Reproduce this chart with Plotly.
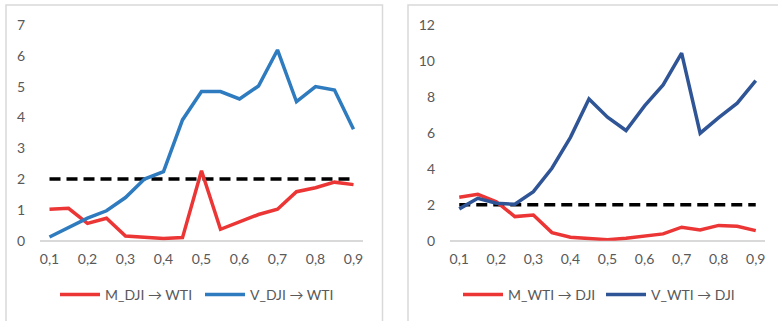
import plotly.graph_objects as go

W, H = 778, 321

# Quantile levels (x axis)
tau = [0.1, 0.15, 0.2, 0.25, 0.3, 0.35, 0.4, 0.45, 0.5,
       0.55, 0.6, 0.65, 0.7, 0.75, 0.8, 0.85, 0.9]
tick_vals = [0.1, 0.2, 0.3, 0.4, 0.5, 0.6, 0.7, 0.8, 0.9]
tick_text = ["0,1", "0,2", "0,3", "0,4", "0,5", "0,6", "0,7", "0,8", "0,9"]

# Left panel: DJI -> WTI
m_dji_wti = [1.02, 1.05, 0.56, 0.73, 0.15, 0.10, 0.07, 0.10, 2.27,
             0.37, 0.62, 0.85, 1.02, 1.59, 1.72, 1.90, 1.82]
v_dji_wti = [0.12, 0.42, 0.73, 0.97, 1.40, 2.00, 2.24, 3.92, 4.84,
             4.84, 4.60, 5.02, 6.19, 4.51, 5.00, 4.89, 3.62]

# Right panel: WTI -> DJI
m_wti_dji = [2.42, 2.58, 2.17, 1.34, 1.43, 0.45, 0.19, 0.10, 0.05,
             0.13, 0.27, 0.38, 0.75, 0.60, 0.85, 0.80, 0.56]
v_wti_dji = [1.77, 2.36, 2.08, 2.03, 2.73, 4.03, 5.75, 7.88, 6.87,
             6.13, 7.50, 8.67, 10.44, 5.98, 6.85, 7.65, 8.90]

critical = [2.0] * len(tau)

left_y_ticks = [0, 1, 2, 3, 4, 5, 6, 7]
right_y_ticks = [0, 2, 4, 6, 8, 10, 12]

RED = "#EC3535"
BLUE_L = "#2E7BBF"
BLUE_R = "#2F5597"
FONT = "Lato, 'Liberation Sans', sans-serif"
TXT = "#595959"
AX = "#D9D9D9"


def px_x(p):
    return p / W


def px_y(p):
    return 1 - p / H


fig = go.Figure()

# left panel traces
fig.add_trace(go.Scatter(x=tau, y=critical, mode="lines", showlegend=False,
                         line=dict(color="black", width=3.5, dash="11px,6px"),
                         xaxis="x", yaxis="y"))
fig.add_trace(go.Scatter(x=tau, y=m_dji_wti, mode="lines", name="M_DJI → WTI",
                         line=dict(color=RED, width=3.5), xaxis="x", yaxis="y",
                         legend="legend"))
fig.add_trace(go.Scatter(x=tau, y=v_dji_wti, mode="lines", name="V_DJI → WTI",
                         line=dict(color=BLUE_L, width=3.5), xaxis="x", yaxis="y",
                         legend="legend"))

# right panel traces
fig.add_trace(go.Scatter(x=tau, y=critical, mode="lines", showlegend=False,
                         line=dict(color="black", width=3.5, dash="11px,6px"),
                         xaxis="x2", yaxis="y2"))
fig.add_trace(go.Scatter(x=tau, y=m_wti_dji, mode="lines", name="M_WTI → DJI",
                         line=dict(color=RED, width=3.5), xaxis="x2", yaxis="y2",
                         legend="legend2"))
fig.add_trace(go.Scatter(x=tau, y=v_wti_dji, mode="lines", name="V_WTI → DJI",
                         line=dict(color=BLUE_R, width=3.5), xaxis="x2", yaxis="y2",
                         legend="legend2"))

xcommon = dict(range=[0.075, 0.925], tickvals=tick_vals, ticktext=tick_text,
               showgrid=False, zeroline=False, showline=False, ticks="",
               tickfont=dict(family=FONT, size=14, color=TXT),
               ticklabelstandoff=8, fixedrange=True, automargin=False)
ycommon = dict(showgrid=False, zeroline=True, zerolinecolor=AX, zerolinewidth=1.5,
               showline=False, ticks="",
               tickfont=dict(family=FONT, size=14, color=TXT),
               ticklabelstandoff=14, fixedrange=True, automargin=False)

ybot, ytop = px_y(240.7), px_y(25)
legend_font = dict(family=FONT, size=14, color=TXT)

fig.update_layout(
    width=W, height=H,
    margin=dict(l=0, r=0, t=0, b=0, autoexpand=False),
    paper_bgcolor="white", plot_bgcolor="white",
    xaxis=dict(domain=[px_x(40), px_x(363)], anchor="y", **xcommon),
    yaxis=dict(domain=[ybot, ytop], anchor="x", range=[0, 7],
               tickvals=left_y_ticks, **ycommon),
    xaxis2=dict(domain=[px_x(450), px_x(765)], anchor="y2", **xcommon),
    yaxis2=dict(domain=[ybot, ytop], anchor="x2", range=[0, 12],
                tickvals=right_y_ticks, **ycommon),
    legend=dict(orientation="h", x=px_x(55), y=px_y(295), yanchor="middle",
                xanchor="left", font=legend_font, entrywidth=90,
                bgcolor="rgba(0,0,0,0)", itemwidth=40, tracegroupgap=0),
    legend2=dict(orientation="h", x=px_x(458), y=px_y(295), yanchor="middle",
                 xanchor="left", font=legend_font, entrywidth=88,
                 bgcolor="rgba(0,0,0,0)", itemwidth=40, tracegroupgap=0),
    shapes=[
        dict(type="rect", xref="paper", yref="paper",
             x0=px_x(6), x1=px_x(382.5), y0=-0.05, y1=px_y(5),
             line=dict(color=AX, width=1.5), fillcolor="rgba(0,0,0,0)", layer="below"),
        dict(type="rect", xref="paper", yref="paper",
             x0=px_x(408), x1=1.05, y0=-0.05, y1=px_y(5),
             line=dict(color=AX, width=1.5), fillcolor="rgba(0,0,0,0)", layer="below"),
    ],
)

fig.write_html("out.html")
